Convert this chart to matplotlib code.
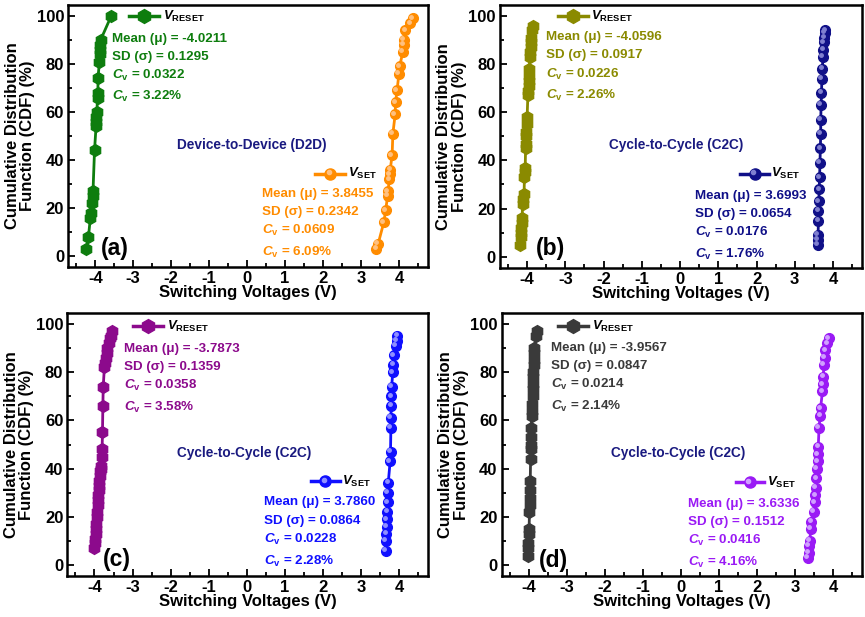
import matplotlib
matplotlib.use("Agg")
import matplotlib.pyplot as plt
import matplotlib.transforms as mtransforms
from matplotlib.ticker import MultipleLocator

plt.rcParams['font.family'] = ['Liberation Sans', 'DejaVu Sans']
plt.rcParams['font.weight'] = 'bold'
plt.rcParams['axes.unicode_minus'] = False
plt.rcParams['mathtext.fontset'] = 'custom'
plt.rcParams['mathtext.rm'] = 'Liberation Sans:bold'
plt.rcParams['mathtext.bf'] = 'Liberation Sans:bold'
plt.rcParams['mathtext.it'] = 'Liberation Sans:italic:bold'
plt.rcParams['mathtext.bfit'] = 'Liberation Sans:italic:bold'

# ---- data ----
# (a) device-to-device
a_reset_x = [-4.24, -4.18, -4.13, -4.12, -4.08, -4.07, -4.06, -4.02, -3.98, -3.97, -3.97,
             -3.96, -3.94, -3.93, -3.93, -3.89, -3.88, -3.87, -3.87, -3.86, -3.58]
a_reset_y = [3, 8, 16, 18, 22, 25, 27, 44, 54, 56, 58, 60, 66, 68, 74, 81, 84, 86, 88, 90, 100]
a_set_x = [3.40, 3.45, 3.60, 3.65, 3.70, 3.71, 3.75, 3.76, 3.77, 3.82, 3.84, 3.90, 3.91,
           3.95, 4.00, 4.02, 4.10, 4.12, 4.13, 4.17, 4.30, 4.37]
a_set_y = [3, 5, 14, 19, 25, 27, 32, 34, 36, 42, 51, 59, 64, 69, 76, 79, 85, 88, 90, 94, 97, 99]

# (b) cycle-to-cycle
b_reset_x = [-4.18, -4.17, -4.16, -4.15, -4.14, -4.13, -4.12, -4.10, -4.08, -4.07, -4.06,
             -4.05, -4.04, -4.03, -4.02, -4.02, -4.01, -4.00, -3.98, -3.97, -3.96, -3.95,
             -3.95, -3.94, -3.93, -3.92, -3.91, -3.90, -3.89, -3.87, -3.85]
b_reset_y = [5, 8, 10, 12, 14, 16, 22, 24, 26, 33, 35, 37, 45, 47, 50, 52, 55, 58, 67, 69,
             71, 73, 75, 78, 83, 85, 87, 89, 91, 94, 96]
b_set_x = [3.60, 3.60, 3.61, 3.62, 3.62, 3.63, 3.64, 3.65, 3.66, 3.67, 3.68, 3.68, 3.69,
           3.70, 3.71, 3.72, 3.74, 3.75, 3.76, 3.77, 3.79, 3.80]
b_set_y = [5, 7, 9, 15, 19, 23, 28, 33, 39, 45, 51, 57, 63, 68, 74, 78, 83, 86, 89, 91, 93, 94]

# (c) cycle-to-cycle
c_reset_x = [-4.00, -3.99, -3.98, -3.97, -3.96, -3.95, -3.94, -3.93, -3.92, -3.91, -3.90,
             -3.89, -3.88, -3.87, -3.86, -3.85, -3.84, -3.83, -3.81, -3.80, -3.79, -3.78,
             -3.77, -3.74, -3.72, -3.70, -3.68, -3.66, -3.63, -3.60, -3.56, -3.53]
c_reset_y = [7, 9, 11, 13, 15, 17, 20, 22, 25, 27, 29, 31, 33, 35, 37, 39, 40, 41, 45, 48,
             55, 66, 74, 82, 84, 86, 88, 90, 92, 94, 95, 97]
c_set_x = [3.65, 3.66, 3.67, 3.68, 3.69, 3.70, 3.71, 3.71, 3.72, 3.77, 3.78, 3.79, 3.79,
           3.80, 3.80, 3.81, 3.84, 3.85, 3.86, 3.92, 3.94, 3.96]
c_set_y = [6, 10, 13, 16, 19, 22, 26, 30, 34, 43, 47, 57, 61, 66, 70, 74, 80, 83, 87, 91, 93, 95]

# (d) cycle-to-cycle
d_reset_x = [-4.03, -4.02, -4.01, -4.00, -3.99, -3.98, -3.97, -3.97, -3.96, -3.96, -3.95,
             -3.94, -3.94, -3.93, -3.93, -3.92, -3.91, -3.91, -3.90, -3.89, -3.89, -3.88,
             -3.88, -3.87, -3.87, -3.86, -3.86, -3.80, -3.78]
d_reset_y = [4, 7, 9, 13, 15, 22, 25, 28, 31, 35, 44, 48, 50, 53, 57, 62, 64, 67, 70, 73,
             75, 78, 80, 83, 85, 88, 90, 95, 97]
d_set_x = [3.34, 3.36, 3.37, 3.38, 3.42, 3.43, 3.50, 3.52, 3.53, 3.55, 3.56, 3.58, 3.59,
           3.60, 3.61, 3.63, 3.66, 3.67, 3.72, 3.73, 3.74, 3.76, 3.78, 3.80, 3.85, 3.88]
d_set_y = [3, 5, 8, 10, 15, 18, 22, 26, 29, 32, 36, 40, 43, 46, 49, 57, 62, 65, 72, 75, 78,
           83, 86, 89, 92, 94]

reset_stats = [("-4.0211", "0.1295", "0.0322", "3.22%"),
               ("-4.0596", "0.0917", "0.0226", "2.26%"),
               ("-3.7873", "0.1359", "0.0358", "3.58%"),
               ("-3.9567", "0.0847", "0.0214", "2.14%")]
set_stats = [("3.8455", "0.2342", "0.0609", "6.09%"),
             ("3.6993", "0.0654", "0.0176", "1.76%"),
             ("3.7860", "0.0864", "0.0228", "2.28%"),
             ("3.6336", "0.1512", "0.0416", "4.16%")]
titles = ["Device-to-Device (D2D)", "Cycle-to-Cycle (C2C)",
          "Cycle-to-Cycle (C2C)", "Cycle-to-Cycle (C2C)"]
labels = ["(a)", "(b)", "(c)", "(d)"]
reset_colors = ["#0e7d0e", "#8a8a00", "#8c0a8c", "#3a3a3a"]
set_colors = ["#ff8c00", "#101088", "#1010ff", "#9a1af5"]
set_light = ["#ffc080", "#8080d0", "#9090ff", "#d0a0ff"]

panels = [
    (a_reset_x, a_reset_y, a_set_x, a_set_y),
    (b_reset_x, b_reset_y, b_set_x, b_set_y),
    (c_reset_x, c_reset_y, c_set_x, c_set_y),
    (d_reset_x, d_reset_y, d_set_x, d_set_y),
]

# annotation anchors per panel (data coords)
reset_leg = [(-3.12, -2.32, 100), (-3.2, -2.42, 100), (-3.0, -2.2, 99), (-3.23, -2.44, 99)]
reset_txt = [(-3.56, 90.6), (-3.5, 91.2), (-3.22, 89.8), (-3.42, 90.2)]
set_leg = [(1.8, 2.59, 34.4), (1.58, 2.32, 34.5), (1.69, 2.44, 34.8), (1.45, 2.19, 34.4)]
set_txt = [(0.38, 26), (0.39, 25.2), (0.45, 26), (0.18, 25.5)]
title_pos = [(0.12, 46.2), (-0.11, 46.4), (-0.08, 46.4), (-0.08, 46.4)]
label_pos = [(-3.84, 3.2), (-3.76, 3.4), (-3.77, 2.4), (-3.72, 2.1)]

rects = [[0.079, 0.567, 0.416, 0.425],
         [0.578, 0.566, 0.419, 0.426],
         [0.078, 0.066, 0.417, 0.427],
         [0.580, 0.066, 0.417, 0.427]]

fig = plt.figure(figsize=(8.65, 6.17), dpi=100)


def stats_block(ax, x, y, stats, color):
    mean, sd, cv, cvp = stats
    lines = [f"Mean (μ) = {mean}", f"SD (σ) = {sd}",
             r"$\mathbfit{C}_\mathbf{v}$ = " + cv, r"$\mathbfit{C}_\mathbf{v}$ = " + cvp]
    offs = [0, 7.6, 15.3, 24.3]
    for s, o in zip(lines, offs):
        ax.text(x, y - o, s, color=color, fontsize=9.6, fontweight='bold',
                ha='left', va='center')


for i, (rx, ry, sx, sy) in enumerate(panels):
    ax = fig.add_axes(rects[i])
    rc, sc = reset_colors[i], set_colors[i]
    ax.plot(rx, ry, '-', color=rc, lw=2, marker='h', ms=8.5, mfc=rc, mec=rc)
    ax.plot(sx, sy, '-', color=sc, lw=2, marker='o', ms=7, mfc=sc, mec=sc)
    # light spot on the ball markers
    shift = ax.transData + mtransforms.ScaledTranslation(-1.2 / 72, 1.2 / 72,
                                                         fig.dpi_scale_trans)
    ax.plot(sx, sy, 'o', ms=2.5, color=set_light[i], transform=shift)

    # legend-like keys
    x0, x1, yl = reset_leg[i]
    ax.plot([x0, x1], [yl, yl], '-', color=rc, lw=2.5)
    ax.plot([(x0 + x1) / 2], [yl], 'h', color=rc, ms=10)
    ax.text(x1 + 0.1, yl, r"$\mathbfit{V}_{\mathbf{RESET}}$", color='black',
            fontsize=9.5, ha='left', va='center')
    x0, x1, yl = set_leg[i]
    ax.plot([x0, x1], [yl, yl], '-', color=sc, lw=2.5)
    ax.plot([(x0 + x1) / 2], [yl], 'o', color=sc, ms=8)
    ax.plot([(x0 + x1) / 2], [yl], 'o', ms=3, color=set_light[i], transform=shift)
    ax.text(x1 + 0.07, yl, r"$\mathbfit{V}_{\mathbf{SET}}$", color='black',
            fontsize=9.5, ha='left', va='center')

    stats_block(ax, *reset_txt[i], reset_stats[i], rc)
    stats_block(ax, *set_txt[i], set_stats[i], sc)

    ax.text(*title_pos[i], titles[i], color='#1a1a80', fontsize=9.8,
            fontweight='bold', ha='center', va='center')
    ax.text(*label_pos[i], labels[i], color='black', fontsize=16.5,
            fontweight='bold', ha='left', va='center')

    ax.set_xlim(-4.71, 4.77)
    ax.set_ylim(-4.6, 104.6)
    ax.xaxis.set_major_locator(MultipleLocator(1))
    ax.xaxis.set_minor_locator(MultipleLocator(0.5))
    ax.yaxis.set_major_locator(MultipleLocator(20))
    ax.yaxis.set_minor_locator(MultipleLocator(10))
    ax.tick_params(which='both', direction='in', top=False, right=False,
                   labelsize=12, width=1.3, pad=3)
    ax.tick_params(which='major', length=5)
    ax.tick_params(which='minor', length=3)
    for lab in ax.get_xticklabels() + ax.get_yticklabels():
        lab.set_fontweight('bold')
    for sp in ax.spines.values():
        sp.set_linewidth(1.8)
    ax.set_xlabel("Switching Voltages (V)", fontsize=12, fontweight='bold', labelpad=-1)
    ax.set_ylabel("Cumulative Distribution\nFunction (CDF) (%)", fontsize=12,
                  fontweight='bold', labelpad=1, linespacing=1.05)

fig.savefig("out.png", dpi=100)
